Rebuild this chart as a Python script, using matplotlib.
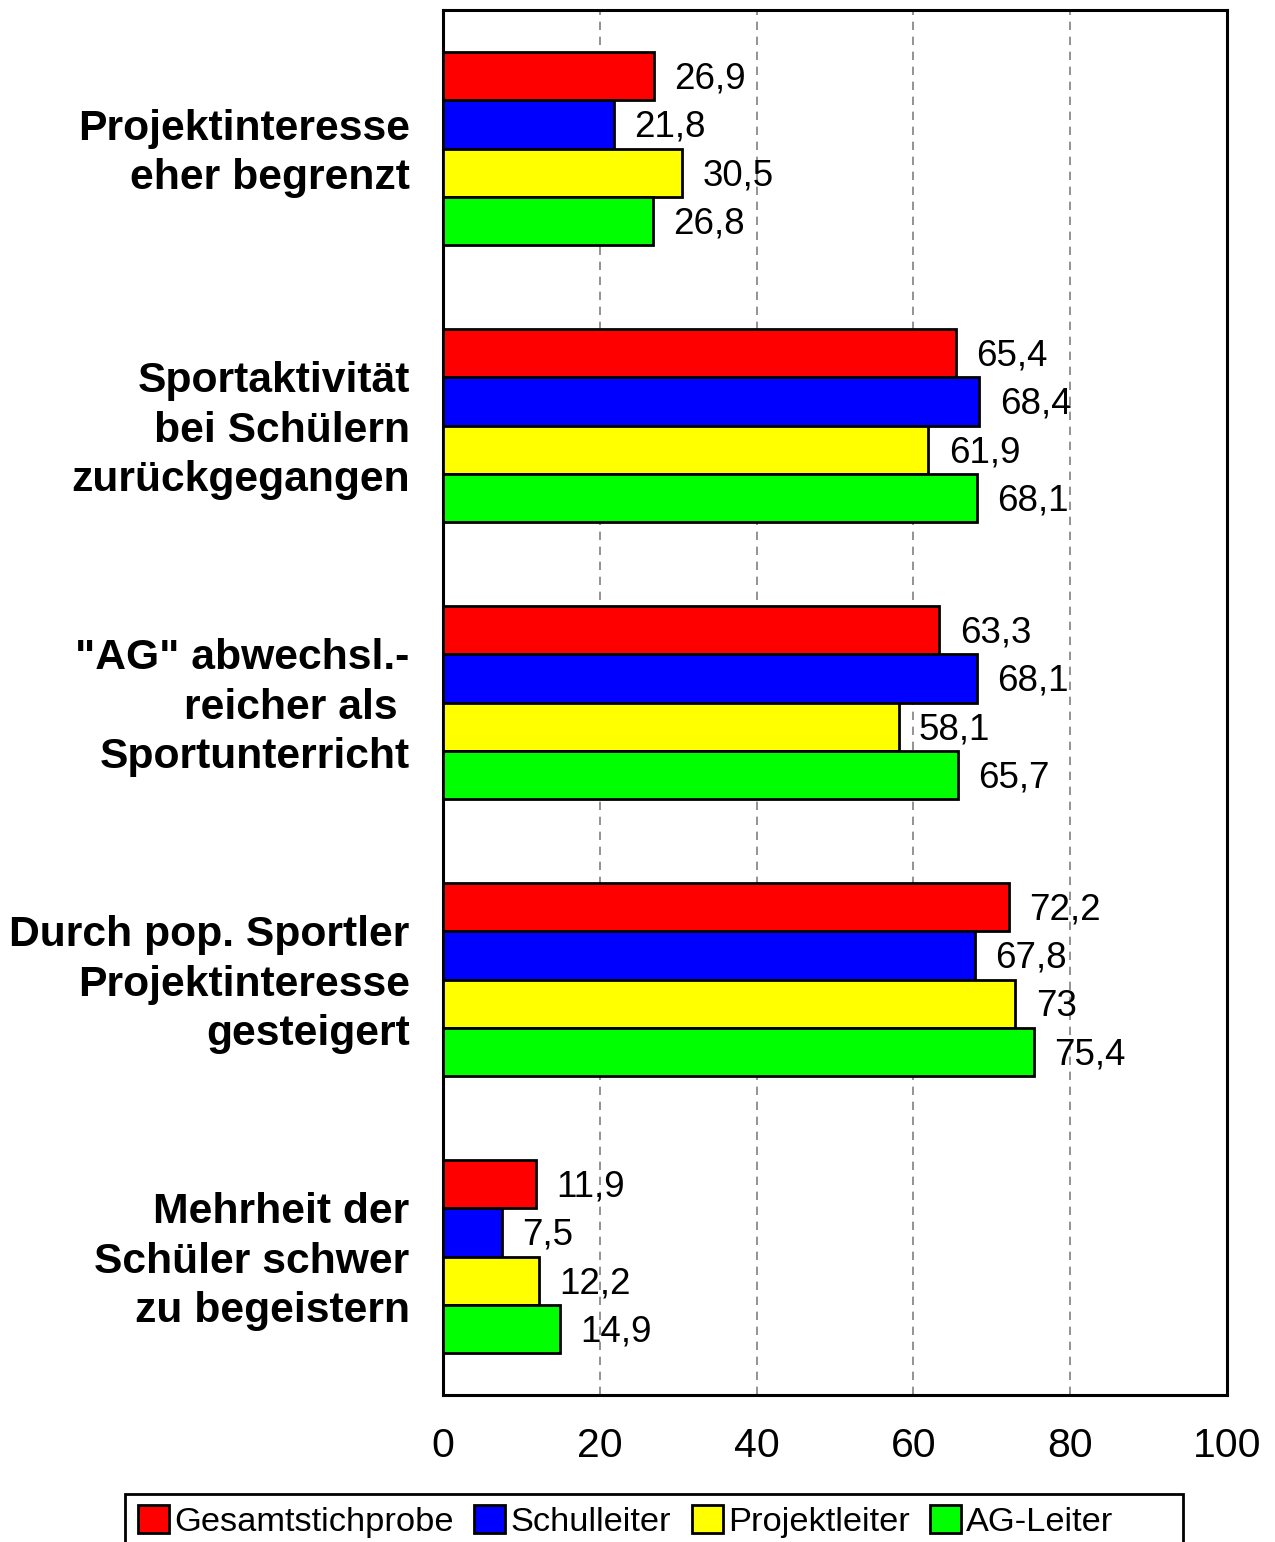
import matplotlib
matplotlib.use("Agg")
import matplotlib.pyplot as plt
import matplotlib.transforms as mtransforms
from matplotlib.patches import Rectangle
import numpy as np

plt.rcParams['font.family'] = ['Liberation Sans', 'DejaVu Sans']

# categories (top to bottom) and series
categories = [
    "Projektinteresse\neher begrenzt",
    "Sportaktivität\nbei Schülern\nzurückgegangen",
    "\"AG\" abwechsl.-\nreicher als \nSportunterricht",
    "Durch pop. Sportler\nProjektinteresse\ngesteigert",
    "Mehrheit der\nSchüler schwer\nzu begeistern",
]
series_names = ["Gesamtstichprobe", "Schulleiter", "Projektleiter", "AG-Leiter"]
gesamt = [26.9, 65.4, 63.3, 72.2, 11.9]
schulleiter = [21.8, 68.4, 68.1, 67.8, 7.5]
projektleiter = [30.5, 61.9, 58.1, 73, 12.2]
ag_leiter = [26.8, 68.1, 65.7, 75.4, 14.9]
series_values = [gesamt, schulleiter, projektleiter, ag_leiter]
colors = ["#ff0000", "#0000ff", "#ffff00", "#00ff00"]
xticks = [0, 20, 40, 60, 80, 100]


def fmt(v):
    # German decimal comma, no decimals for whole numbers
    if float(v).is_integer():
        return str(int(v))
    return ("%.1f" % v).replace(".", ",")


fig = plt.figure(figsize=(12.75, 15.42), dpi=100)
ax = fig.add_axes([0.3475, 0.0953, 0.6149, 0.8982])

y = np.arange(len(categories))
h = 0.175
offsets = (np.arange(4) - 1.5) * h

for vals, name, col, off in zip(series_values, series_names, colors, offsets):
    bars = ax.barh(y + off, vals, height=h, color=col, edgecolor="black",
                   linewidth=2.0, label=name, zorder=3)
    for b, v in zip(bars, vals):
        ax.text(b.get_width() + 2.6, b.get_y() + b.get_height() / 2 + 0.01, fmt(v),
                va="center", ha="left", fontsize=26.5, zorder=4)

ax.set_xlim(0, 100)
ax.set_ylim(len(categories) - 0.5, -0.5)
ax.set_xticks(xticks)
ax.set_xticklabels([str(t) for t in xticks], fontsize=29.5)
ax.set_yticks(y)
ax.set_yticklabels(categories, fontsize=30.7, fontweight="bold", linespacing=1.3)
ax.tick_params(axis="x", length=0, pad=23)
ax.tick_params(axis="y", length=0, pad=24)

# nudge category labels up a little
shift = mtransforms.ScaledTranslation(0, 4 / 100, fig.dpi_scale_trans)
for lbl in ax.get_yticklabels():
    lbl.set_transform(lbl.get_transform() + shift)

ax.grid(axis="x", color="#808080", linestyle=(0, (5, 4)), linewidth=1.2, zorder=0)
for s in ax.spines.values():
    s.set_linewidth(2.2)
    s.set_color("black")

leg = fig.legend(loc="upper left", bbox_to_anchor=(0.099, 0.0315), ncol=4,
                 fontsize=24.75, frameon=False,
                 handlelength=0.9, handleheight=0.85, handletextpad=0.15,
                 columnspacing=0.6, borderpad=0.35, borderaxespad=0)
for p in leg.get_patches():
    p.set_linewidth(2.0)

# legend frame is wider than its entries and runs off the bottom edge
fig.patches.append(Rectangle((125 / 1275, -0.01), (1183 - 125) / 1275,
                             0.01 + (1542 - 1494) / 1542,
                             transform=fig.transFigure, fill=False,
                             edgecolor="black", linewidth=2.0))

fig.savefig("out.png", dpi=100)
